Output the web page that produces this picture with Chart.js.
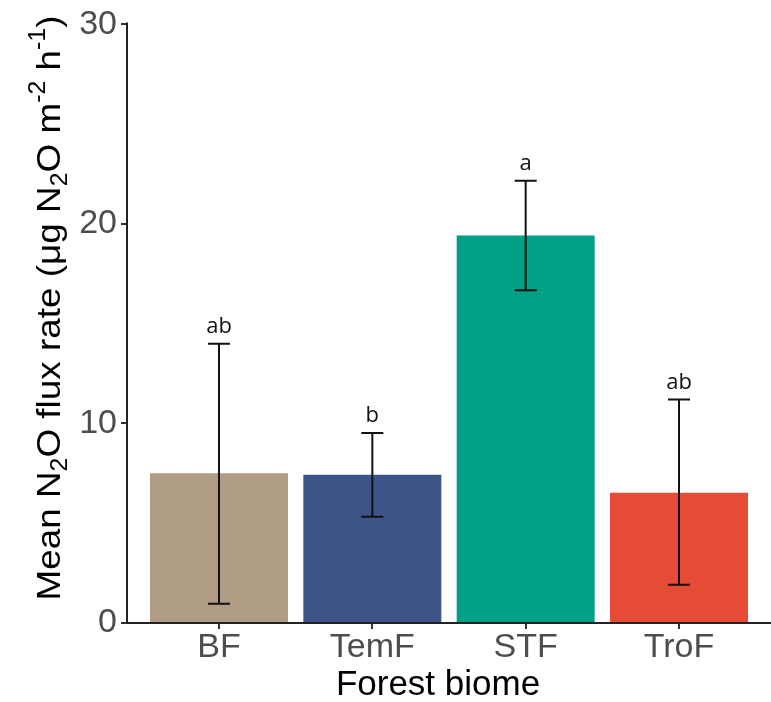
<!DOCTYPE html>
<html><head><meta charset="utf-8">
<script src="https://cdn.jsdelivr.net/npm/chart.js@4"></script>
<style>html,body{margin:0;padding:0;background:#fff;overflow:hidden}#wrap{width:771px;height:702px}</style>
</head><body><div id="wrap"><canvas id="c" width="771" height="702"></canvas></div>
<script>
const categories = ['BF', 'TemF', 'STF', 'TroF'];
const meanFlux = [7.5, 7.43, 19.42, 6.53];
const errHigh = [14.0, 9.52, 22.17, 11.2];
const errLow = [0.97, 5.33, 16.68, 1.92];
const letters = ['ab', 'b', 'a', 'ab'];
const barColors = ['#B09C85', '#3C5488', '#00A087', '#E64B35'];
const yTicks = [0, 10, 20, 30];

const FONT = '"Liberation Sans", Arial, sans-serif';

const overlay = {
  id: 'overlay',
  afterDatasetsDraw(chart) {
    const ctx = chart.ctx, xs = chart.scales.x, ys = chart.scales.y;
    ctx.save();
    // error bars
    ctx.strokeStyle = '#111';
    ctx.lineWidth = 2;
    categories.forEach((c, i) => {
      const x = xs.getPixelForValue(i);
      const yH = ys.getPixelForValue(errHigh[i]);
      const yL = ys.getPixelForValue(errLow[i]);
      ctx.beginPath();
      ctx.moveTo(x, yH); ctx.lineTo(x, yL);
      ctx.moveTo(x - 11, yH); ctx.lineTo(x + 11, yH);
      ctx.moveTo(x - 11, yL); ctx.lineTo(x + 11, yL);
      ctx.stroke();
      ctx.fillStyle = '#111';
      ctx.font = '22px "Open Sans", sans-serif';
      ctx.textAlign = 'center';
      ctx.textBaseline = 'alphabetic';
      ctx.fillText(letters[i], x, yH - 11);
    });
    // axis lines
    const a = chart.chartArea;
    ctx.strokeStyle = '#222';
    ctx.lineWidth = 2;
    ctx.beginPath();
    ctx.moveTo(a.left, a.top - 2); ctx.lineTo(a.left, a.bottom);
    ctx.lineTo(a.right, a.bottom);
    ctx.stroke();
    // x title
    ctx.fillStyle = '#000';
    ctx.font = '35px ' + FONT;
    ctx.textAlign = 'center';
    ctx.textBaseline = 'alphabetic';
    ctx.fillText('Forest biome', 438, 695);
    // y title rich text
    const segs = [
      ['Mean N', 'n'], ['2', 'sub'], ['O flux rate (\u03bcg N', 'n'], ['2', 'sub'],
      ['O m', 'n'], ['-2', 'sup'], [' h', 'n'], ['-1', 'sup'], [')', 'n']
    ];
    const big = 34, small = 23;
    let total = 0;
    segs.forEach(s => { ctx.font = (s[1] === 'n' ? big : small) + 'px ' + FONT; total += ctx.measureText(s[0]).width; });
    ctx.translate(60, 308);
    ctx.rotate(-Math.PI / 2);
    const stretch = 585 / total;
    ctx.scale(stretch, 1);
    ctx.textAlign = 'left';
    ctx.textBaseline = 'alphabetic';
    let px = -total / 2;
    segs.forEach(s => {
      ctx.font = (s[1] === 'n' ? big : small) + 'px ' + FONT;
      let dy = 0;
      if (s[1] === 'sub') dy = 7;
      if (s[1] === 'sup') dy = -15;
      ctx.fillText(s[0], px, dy);
      px += ctx.measureText(s[0]).width;
    });
    ctx.restore();
  }
};

new Chart(document.getElementById('c'), {
  type: 'bar',
  data: {
    datasets: [{
      data: categories.map((c, i) => ({ x: i, y: meanFlux[i] })),
      backgroundColor: barColors,
      borderWidth: 0,
      barPercentage: 0.9,
      categoryPercentage: 1.0
    }]
  },
  options: {
    responsive: false,
    animation: false,
    layout: { padding: { top: 22, right: 0, left: 0, bottom: 0 } },
    plugins: { legend: { display: false }, tooltip: { enabled: false } },
    scales: {
      x: {
        type: 'linear',
        offset: false,
        min: -0.6,
        max: 3.6,
        afterBuildTicks: s => { s.ticks = categories.map((c, i) => ({ value: i })); },
        afterFit: s => { s.height = 79; },
        border: { display: false },
        grid: { offset: false, drawOnChartArea: false, tickLength: 6, color: '#333', lineWidth: 2 },
        ticks: {
          color: '#4D4D4D',
          font: { family: FONT, size: 34, lineHeight: 1 },
          padding: 2,
          maxRotation: 0,
          autoSkip: false,
          callback: v => categories[v]
        }
      },
      y: {
        min: 0,
        max: 30,
        afterBuildTicks: s => { s.ticks = yTicks.map(v => ({ value: v })); },
        afterFit: s => { s.width = 127; },
        border: { display: false },
        grid: { drawOnChartArea: false, tickLength: 6, color: '#333', lineWidth: 2 },
        ticks: {
          color: '#4D4D4D',
          font: { family: FONT, size: 34 },
          padding: 4
        }
      }
    }
  },
  plugins: [overlay]
});
</script>
</body></html>
